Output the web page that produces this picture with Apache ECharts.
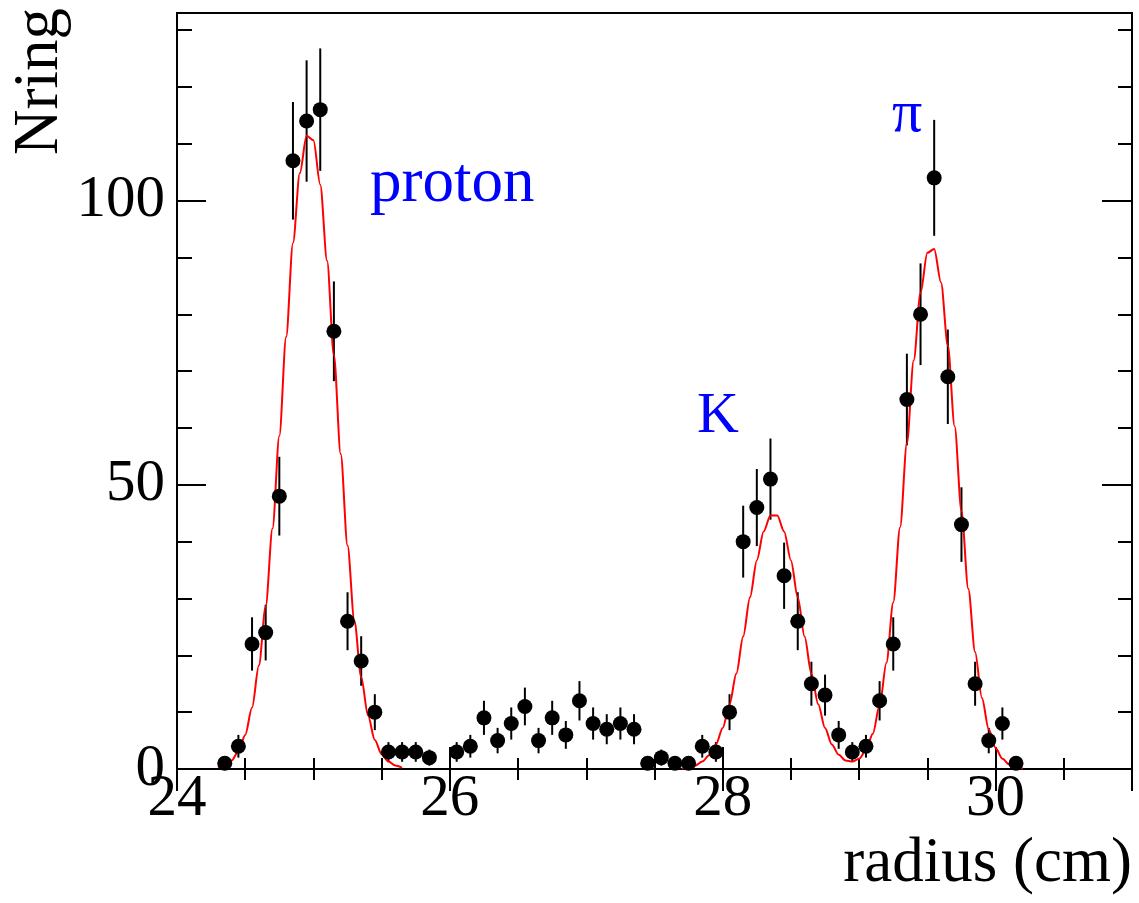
<!DOCTYPE html>
<html lang="en">
<head>
	<meta charset="UTF-8">
	<title>Nring vs radius</title>
	<style>
		html, body { margin: 0; padding: 0; background: #fff; }
		#chart { width: 1139px; height: 903px; }
	</style>
</head>
<body>
	<div id="chart"></div>
	<script type="text/javascript" src="https://cdn.jsdelivr.net/npm/echarts/dist/echarts.min.js"></script>
	<script type="text/javascript">
		// histogram bins (centres, cm) and counts
		var radius = [24.35, 24.45, 24.55, 24.65, 24.75, 24.85, 24.95, 25.05, 25.15, 25.25,
			25.35, 25.45, 25.55, 25.65, 25.75, 25.85, 25.95, 26.05, 26.15, 26.25,
			26.35, 26.45, 26.55, 26.65, 26.75, 26.85, 26.95, 27.05, 27.15, 27.25,
			27.35, 27.45, 27.55, 27.65, 27.75, 27.85, 27.95, 28.05, 28.15, 28.25,
			28.35, 28.45, 28.55, 28.65, 28.75, 28.85, 28.95, 29.05, 29.15, 29.25,
			29.35, 29.45, 29.55, 29.65, 29.75, 29.85, 29.95, 30.05, 30.15];
		var nring = [1, 4, 22, 24, 48, 107, 114, 116, 77, 26,
			19, 10, 3, 3, 3, 2, 0, 3, 4, 9,
			5, 8, 11, 5, 9, 6, 12, 8, 7, 8,
			7, 1, 2, 1, 1, 4, 3, 10, 40, 46,
			51, 34, 26, 15, 13, 6, 3, 4, 12, 22,
			65, 80, 104, 69, 43, 15, 5, 8, 1];

		// fitted curve, proton peak
		var fitProtonX = [24.30, 24.35, 24.40, 24.45, 24.50, 24.55, 24.60, 24.65, 24.70, 24.75,
			24.80, 24.85, 24.90, 24.95, 25.00, 25.05, 25.10, 25.15, 25.20, 25.25,
			25.30, 25.35, 25.40, 25.45, 25.50, 25.55, 25.60, 25.65];
		var fitProtonY = [0.3, 0.7, 1.5, 3.1, 6.0, 10.8, 18.2, 28.6, 42.3, 58.6,
			76.0, 92.5, 104.8, 111.4, 110.6, 102.8, 89.4, 72.8, 55.4, 39.3,
			26.1, 16.2, 9.4, 5.1, 2.6, 1.3, 0.6, 0.2];

		// fitted curve, K and pi peaks
		var fitKPiX = [27.70, 27.75, 27.80, 27.85, 27.90, 27.95, 28.00, 28.05, 28.10, 28.15,
			28.20, 28.25, 28.30, 28.35, 28.40, 28.45, 28.50, 28.55, 28.60, 28.65,
			28.70, 28.75, 28.80, 28.85, 28.90, 28.95, 29.00, 29.05, 29.10, 29.15,
			29.20, 29.25, 29.30, 29.35, 29.40, 29.45, 29.50, 29.55, 29.60, 29.65,
			29.70, 29.75, 29.80, 29.85, 29.90, 29.95, 30.00, 30.05, 30.10, 30.15, 30.20];
		var fitKPiY = [0.1, 0.3, 0.6, 1.3, 2.4, 4.3, 7.2, 11.4, 16.8, 23.3,
			30.2, 36.7, 41.8, 44.6, 44.6, 41.8, 36.7, 30.2, 23.3, 16.8,
			11.4, 7.2, 4.3, 2.5, 1.5, 1.3, 1.8, 3.3, 6.2, 11.2,
			18.7, 29.3, 42.5, 57.3, 71.9, 83.8, 90.8, 91.5, 85.6, 74.5,
			60.3, 45.4, 31.7, 20.6, 12.5, 7.0, 3.7, 1.8, 0.8, 0.3, 0.1];

		var xTicks = [24, 26, 28, 30];
		var yTicks = [0, 50, 100];

		var serif = 'Liberation Serif';

		function zip(a, b) {
			var out = [];
			for (var i = 0; i < a.length; i++) out.push([a[i], b[i]]);
			return out;
		}

		// empty bins are not drawn (like ROOT does)
		var points = [];
		for (var i = 0; i < radius.length; i++) {
			if (nring[i] > 0) points.push([radius[i], nring[i], Math.sqrt(nring[i])]);
		}

		function xAxisDef(pos, step, len, labels) {
			return {
				type: 'value', position: pos, min: 24, max: 31, interval: step,
				axisLine: { show: labels, lineStyle: { color: '#000', width: 2 } },
				axisTick: { show: true, inside: true, length: len, lineStyle: { color: '#000', width: 2 } },
				axisLabel: {
					show: labels, margin: 1, showMaxLabel: false,
					fontFamily: serif, fontSize: 59, color: '#000'
				},
				splitLine: { show: false }
			};
		}
		function yAxisDef(pos, step, len, labels) {
			return {
				type: 'value', position: pos, min: 0, max: 133, interval: step,
				axisLine: { show: labels, lineStyle: { color: '#000', width: 2 } },
				axisTick: { show: true, inside: true, length: len, lineStyle: { color: '#000', width: 2 } },
				axisLabel: {
					show: labels, margin: 12, showMaxLabel: false,
					fontFamily: serif, fontSize: 59, color: '#000'
				},
				splitLine: { show: false }
			};
		}

		var dom = document.getElementById('chart');
		var myChart = echarts.init(dom, null, { renderer: 'canvas' });

		var option = {
			animation: false,
			backgroundColor: '#fff',
			grid: {
				left: 177, right: 7, top: 13, bottom: 134,
				containLabel: false, outerBoundsMode: 'none',
				show: true, borderColor: '#000', borderWidth: 2, backgroundColor: 'transparent'
			},
			xAxis: [
				xAxisDef('bottom', xTicks[1] - xTicks[0], 22, true),
				xAxisDef('bottom', 0.5, 11, false),
				xAxisDef('top', xTicks[1] - xTicks[0], 22, false),
				xAxisDef('top', 0.5, 11, false)
			],
			yAxis: [
				yAxisDef('left', yTicks[1] - yTicks[0], 29, true),
				yAxisDef('left', 10, 15, false),
				yAxisDef('right', yTicks[1] - yTicks[0], 30, false),
				yAxisDef('right', 10, 14, false)
			],
			graphic: [
				{ type: 'text', x: 40.7, y: 8, rotation: Math.PI / 2,
					style: { text: 'Nring', font: '63px "Liberation Serif"', fill: '#000',
						align: 'right', verticalAlign: 'middle', textAlign: 'right', textVerticalAlign: 'middle' } },
				{ type: 'text', x: 1132, y: 864,
					style: { text: 'radius (cm)', font: '63px "Liberation Serif"', fill: '#000',
						align: 'right', verticalAlign: 'middle', textAlign: 'right', textVerticalAlign: 'middle' } },
				{ type: 'text', x: 370, y: 184,
					style: { text: 'proton', font: '63px "Liberation Serif"', fill: '#0000ff',
						align: 'left', verticalAlign: 'middle', textAlign: 'left', textVerticalAlign: 'middle' } },
				{ type: 'text', x: 697, y: 417,
					style: { text: 'K', font: '58px "Liberation Serif"', fill: '#0000ff',
						align: 'left', verticalAlign: 'middle', textAlign: 'left', textVerticalAlign: 'middle' } },
				{ type: 'text', x: 892, y: 115,
					style: { text: 'π', font: '60px "Liberation Serif"', fill: '#0000ff',
						align: 'left', verticalAlign: 'middle', textAlign: 'left', textVerticalAlign: 'middle' } }
			],
			series: [
				{
					name: 'errors',
					type: 'custom',
					xAxisIndex: 0, yAxisIndex: 0,
					z: 2,
					data: points,
					renderItem: function (params, api) {
						var x = api.value(0), y = api.value(1), e = api.value(2);
						var p1 = api.coord([x, y - e]);
						var p2 = api.coord([x, y + e]);
						return {
							type: 'line',
							shape: { x1: p1[0], y1: p1[1], x2: p2[0], y2: p2[1] },
							style: { stroke: '#000', lineWidth: 2 }
						};
					}
				},
				{
					name: 'fit proton',
					type: 'line',
					xAxisIndex: 0, yAxisIndex: 0,
					z: 3,
					data: zip(fitProtonX, fitProtonY),
					showSymbol: false,
					smooth: 0.3,
					smoothMonotone: 'x',
					lineStyle: { color: '#ff0000', width: 2 }
				},
				{
					name: 'fit K pi',
					type: 'line',
					xAxisIndex: 0, yAxisIndex: 0,
					z: 3,
					data: zip(fitKPiX, fitKPiY),
					showSymbol: false,
					smooth: 0.3,
					smoothMonotone: 'x',
					lineStyle: { color: '#ff0000', width: 2 }
				},
				{
					name: 'Nring',
					type: 'scatter',
					xAxisIndex: 0, yAxisIndex: 0,
					z: 4,
					data: points,
					symbol: 'circle',
					symbolSize: 15,
					itemStyle: { color: '#000', opacity: 1 }
				}
			]
		};

		myChart.setOption(option, true);
	</script>
</body>
</html>
